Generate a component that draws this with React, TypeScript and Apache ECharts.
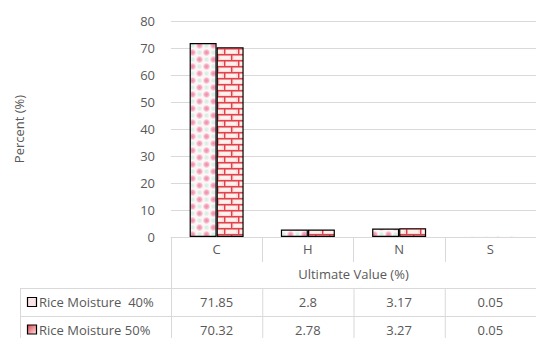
import { useEffect, useRef } from "react";
import * as echarts from "echarts";

// Ultimate analysis of rice husk at two moisture levels (%)
const categories = ["C", "H", "N", "S"];
const seriesNames = ["Rice Moisture  40%", "Rice Moisture 50%"];
const moisture40 = [71.85, 2.8, 3.17, 0.05];
const moisture50 = [70.32, 2.78, 3.27, 0.05];
const yMin = 0;
const yMax = 80;
const yStep = 10;

const FONT = "'Open Sans', 'Liberation Sans', sans-serif";
const TEXT = "#595959";
const RULE = "#d9d9d9";

const GRID = { left: 171, top: 21, width: 368, height: 216 };
const ROW_TOPS = [288, 316];
const ROW_TEXT_Y = [302, 329.5];

// Light confetti tile: white ground with soft pink and mint spots
function dotTile(): HTMLCanvasElement {
  const c = document.createElement("canvas");
  c.width = 14;
  c.height = 14;
  const g = c.getContext("2d")!;
  g.fillStyle = "#fdf7f8";
  g.fillRect(0, 0, 14, 14);
  const spot = (x: number, y: number, rgb: string, a: number, r: number) => {
    const grad = g.createRadialGradient(x, y, 0, x, y, r);
    grad.addColorStop(0, `rgba(${rgb},${a})`);
    grad.addColorStop(0.5, `rgba(${rgb},${a * 0.7})`);
    grad.addColorStop(1, `rgba(${rgb},0)`);
    g.fillStyle = grad;
    g.beginPath();
    g.arc(x, y, r, 0, Math.PI * 2);
    g.fill();
  };
  spot(3.5, 3.5, "236,110,145", 0.8, 3.8);
  spot(10.5, 10.5, "236,110,145", 0.8, 3.8);
  spot(10.5, 3.5, "175,230,208", 0.55, 3);
  spot(3.5, 10.5, "175,230,208", 0.55, 3);
  return c;
}

// Brick tile: pale bricks with red mortar, rows offset by half a brick
function brickTile(): HTMLCanvasElement {
  const c = document.createElement("canvas");
  c.width = 14;
  c.height = 12;
  const g = c.getContext("2d")!;
  g.fillStyle = "#fcdcdb";
  g.fillRect(0, 0, 14, 12);
  g.fillStyle = "#fff1ea";
  g.fillRect(2, 2, 10, 3);
  g.fillRect(0, 8, 6, 3);
  g.fillRect(10, 8, 4, 3);
  g.strokeStyle = "#e0434f";
  g.lineWidth = 1.4;
  g.beginPath();
  g.moveTo(0, 0.7);
  g.lineTo(14, 0.7);
  g.moveTo(0, 6.7);
  g.lineTo(14, 6.7);
  g.moveTo(0.7, 0);
  g.lineTo(0.7, 6.7);
  g.moveTo(7.7, 6.7);
  g.lineTo(7.7, 12);
  g.stroke();
  return c;
}

export default function App() {
  const ref = useRef<HTMLDivElement>(null);

  useEffect(() => {
    document.body.style.margin = "0";
    const el = ref.current!;
    const chart = echarts.init(el, null, { renderer: "svg" });

    const fills = [
      { image: dotTile(), repeat: "repeat", imageWidth: 14, imageHeight: 14 },
      { image: brickTile(), repeat: "repeat", imageWidth: 14, imageHeight: 12 },
    ];
    const values = [moisture40, moisture50];

    chart.setOption({
      animation: false,
      textStyle: { fontFamily: FONT },
      grid: { ...GRID, containLabel: false },
      xAxis: {
        type: "category",
        data: categories,
        axisLine: { lineStyle: { color: RULE, width: 1 } },
        axisTick: { show: true, length: 25, interval: 0, lineStyle: { color: RULE } },
        axisLabel: { color: TEXT, fontSize: 13, margin: 5, fontFamily: FONT },
        name: "Ultimate Value (%)",
        nameLocation: "middle",
        nameGap: 30,
        nameTextStyle: { color: TEXT, fontSize: 13, fontFamily: FONT },
      },
      yAxis: {
        type: "value",
        min: yMin,
        max: yMax,
        interval: yStep,
        axisLine: { show: false },
        axisTick: { show: false },
        splitLine: { lineStyle: { color: RULE, width: 1 } },
        axisLabel: { color: TEXT, fontSize: 13, margin: 16, fontFamily: FONT },
        name: "Percent (%)",
        nameLocation: "middle",
        nameRotate: 90,
        nameGap: 146,
        nameTextStyle: { color: TEXT, fontSize: 13, fontFamily: FONT },
      },
      series: values.map((vals, i) => ({
        type: "bar",
        name: seriesNames[i],
        barWidth: 27,
        barGap: "0%",
        data: vals.map((v) => ({
          value: v,
          itemStyle: v < 0.5 ? { borderWidth: 0 } : undefined,
        })),
        itemStyle: { color: fills[i], borderColor: "#000", borderWidth: 1.2 },
      })),
    });

    // Data table under the axis, laid out on the category scale
    const centers = categories.map(
      (c) => chart.convertToPixel({ xAxisIndex: 0 }, c) as number
    );
    const catW = centers.length > 1 ? centers[1] - centers[0] : GRID.width;
    const bounds = [centers[0] - catW / 2, ...centers.map((c) => c + catW / 2)];
    const axisY = chart.convertToPixel({ yAxisIndex: 0 }, yMin) as number;
    const bottom = 338;
    const tableLeft = 20;
    const W = el.clientWidth;

    const ruleStyle = { stroke: RULE, lineWidth: 1 };
    const els: any[] = [];
    els.push({
      type: "line",
      shape: { x1: bounds[0] + 0.5, y1: axisY, x2: bounds[0] + 0.5, y2: bottom },
      style: ruleStyle,
    });
    els.push({
      type: "line",
      shape: { x1: tableLeft + 0.5, y1: ROW_TOPS[0], x2: tableLeft + 0.5, y2: bottom },
      style: ruleStyle,
    });
    ROW_TOPS.forEach((y) =>
      els.push({
        type: "line",
        shape: { x1: tableLeft, y1: y + 0.5, x2: W, y2: y + 0.5 },
        style: ruleStyle,
      })
    );
    bounds.slice(1).forEach((x) =>
      els.push({
        type: "line",
        shape: { x1: x + 0.5, y1: ROW_TOPS[0], x2: x + 0.5, y2: bottom },
        style: ruleStyle,
      })
    );
    const keyFills = [
      "#fbe4e8",
      new echarts.graphic.LinearGradient(0, 0, 1, 1, [
        { offset: 0, color: "#e0434f" },
        { offset: 1, color: "#fde6e4" },
      ]),
    ];
    values.forEach((vals, r) => {
      const cy = ROW_TEXT_Y[r];
      els.push({
        type: "rect",
        shape: { x: 27.5, y: cy - 4.5, width: 9, height: 9 },
        style: { fill: keyFills[r], stroke: "#000", lineWidth: 1.2 },
      });
      els.push({
        type: "text",
        x: 39,
        y: cy,
        style: {
          text: seriesNames[r],
          fill: TEXT,
          font: `13px ${FONT}`,
          align: "left",
          verticalAlign: "middle",
        },
      });
      vals.forEach((v, i) =>
        els.push({
          type: "text",
          x: centers[i],
          y: cy,
          style: {
            text: String(v),
            fill: TEXT,
            font: `13px ${FONT}`,
            align: "center",
            verticalAlign: "middle",
          },
        })
      );
    });
    chart.setOption({ graphic: { elements: els } });

    return () => chart.dispose();
  }, []);

  return <div ref={ref} style={{ width: 536, height: 338 }} />;
}
